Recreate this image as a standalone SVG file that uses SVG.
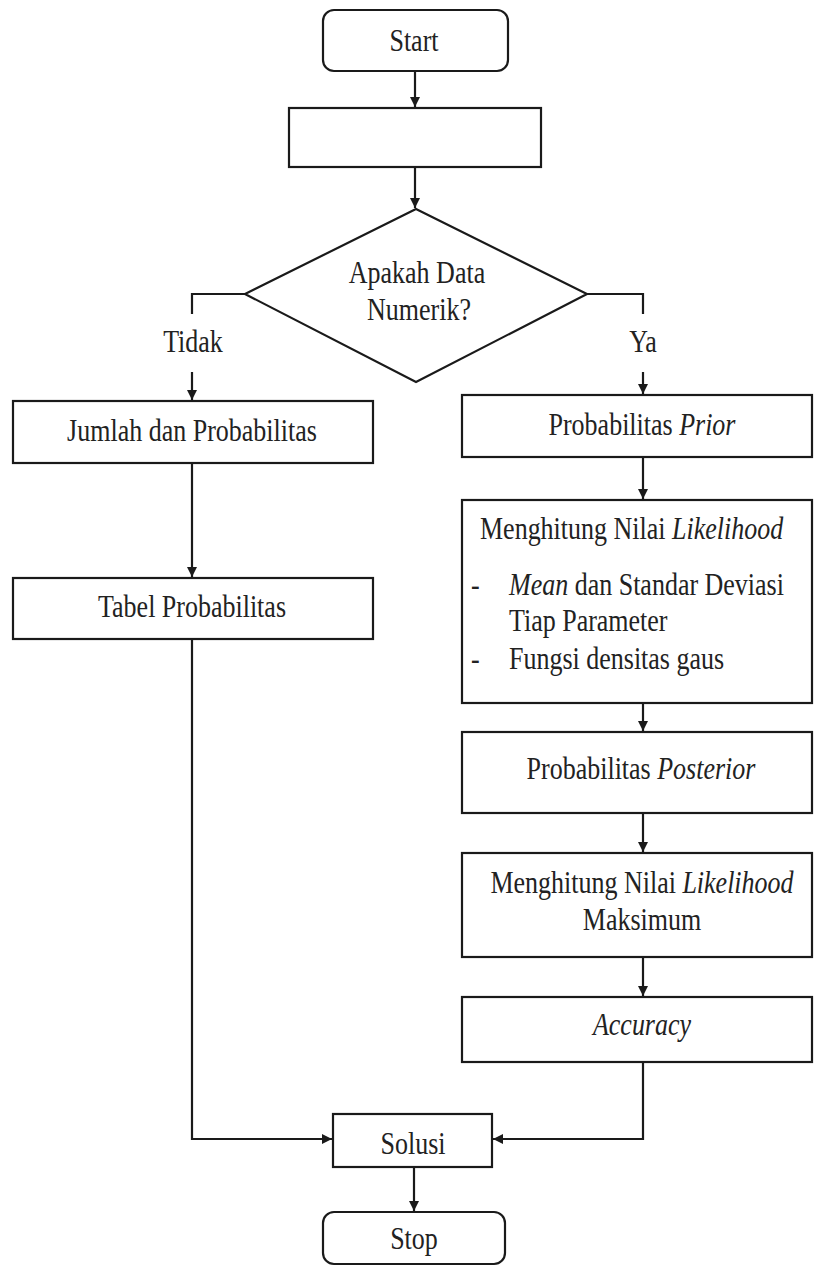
<svg xmlns="http://www.w3.org/2000/svg" width="814" height="1268" viewBox="0 0 814 1268">
<style>
.box{fill:#fff;stroke:#1a1a1a;stroke-width:2.2}
.ln{fill:none;stroke:#1a1a1a;stroke-width:2.2}
.t{font-family:"Liberation Serif","Times New Roman",serif;font-size:26px;fill:#222;transform-box:fill-box;transform-origin:center;transform:scaleY(1.2)}
.c{text-anchor:middle}
.i{font-style:italic}
</style>
<defs>
<marker id="ah" viewBox="0 0 10 10" refX="10" refY="5" markerWidth="11" markerHeight="10" markerUnits="userSpaceOnUse" orient="auto">
<path d="M0,0 L10,5 L0,10 z" fill="#1a1a1a"/>
</marker>
</defs>
<rect width="814" height="1268" fill="#fff"/>
<g id="connectors">
<line class="ln" x1="415" y1="71" x2="415" y2="107" marker-end="url(#ah)"/>
<line class="ln" x1="415" y1="167" x2="415" y2="208" marker-end="url(#ah)"/>
<polyline class="ln" points="245,294 192,294 192,314"/>
<line class="ln" x1="192" y1="372" x2="192" y2="400" marker-end="url(#ah)"/>
<polyline class="ln" points="587,294 643,294 643,314"/>
<line class="ln" x1="643" y1="372" x2="643" y2="394" marker-end="url(#ah)"/>
<line class="ln" x1="192" y1="463" x2="192" y2="577" marker-end="url(#ah)"/>
<polyline class="ln" points="192,639 192,1139 332,1139" marker-end="url(#ah)"/>
<line class="ln" x1="643" y1="457" x2="643" y2="499" marker-end="url(#ah)"/>
<line class="ln" x1="643" y1="703" x2="643" y2="731" marker-end="url(#ah)"/>
<line class="ln" x1="643" y1="813" x2="643" y2="852" marker-end="url(#ah)"/>
<line class="ln" x1="643" y1="957" x2="643" y2="996" marker-end="url(#ah)"/>
<polyline class="ln" points="643,1062 643,1139 493,1139" marker-end="url(#ah)"/>
<line class="ln" x1="414" y1="1167" x2="414" y2="1211" marker-end="url(#ah)"/>
<text class="t c" x="193" y="350">Tidak</text>
<text class="t c" x="643" y="350">Ya</text>
</g>
<g id="start">
<rect class="box" x="323" y="10" width="185" height="61" rx="11"/>
<text class="t c" x="414" y="49">Start</text>
</g>
<g id="process0">
<rect class="box" x="289" y="108" width="252" height="59"/>
</g>
<g id="decision">
<polygon class="box" points="416,209 587,294 416,382 245,294"/>
<text class="t c" x="417" y="281">Apakah Data</text>
<text class="t c" x="419" y="318">Numerik?</text>
</g>
<g id="jumlah">
<rect class="box" x="13" y="401" width="360" height="62"/>
<text class="t c" x="192" y="439">Jumlah dan Probabilitas</text>
</g>
<g id="tabel">
<rect class="box" x="13" y="578" width="360" height="61"/>
<text class="t c" x="192" y="615">Tabel Probabilitas</text>
</g>
<g id="prior">
<rect class="box" x="462" y="395" width="350" height="62"/>
<text class="t c" x="642" y="433">Probabilitas <tspan class="i">Prior</tspan></text>
</g>
<g id="likelihood">
<rect class="box" x="462" y="500" width="350" height="203"/>
<text class="t" x="480" y="537">Menghitung Nilai <tspan class="i">Likelihood</tspan></text>
<text class="t" x="471" y="593">-</text>
<text class="t" x="509" y="593"><tspan class="i">Mean</tspan> dan Standar Deviasi</text>
<text class="t" x="509" y="629">Tiap Parameter</text>
<text class="t" x="471" y="667">-</text>
<text class="t" x="509" y="667">Fungsi densitas gaus</text>
</g>
<g id="posterior">
<rect class="box" x="462" y="732" width="350" height="81"/>
<text class="t c" x="641" y="777">Probabilitas <tspan class="i">Posterior</tspan></text>
</g>
<g id="maksimum">
<rect class="box" x="462" y="853" width="350" height="104"/>
<text class="t c" x="642" y="891">Menghitung Nilai <tspan class="i">Likelihood</tspan></text>
<text class="t c" x="642" y="928">Maksimum</text>
</g>
<g id="accuracy">
<rect class="box" x="462" y="997" width="350" height="65"/>
<text class="t c i" x="642" y="1033">Accuracy</text>
</g>
<g id="solusi">
<rect class="box" x="333" y="1114" width="159" height="53"/>
<text class="t c" x="413" y="1152">Solusi</text>
</g>
<g id="stop">
<rect class="box" x="323" y="1212" width="182" height="52" rx="11"/>
<text class="t c" x="414" y="1247">Stop</text>
</g>
</svg>
